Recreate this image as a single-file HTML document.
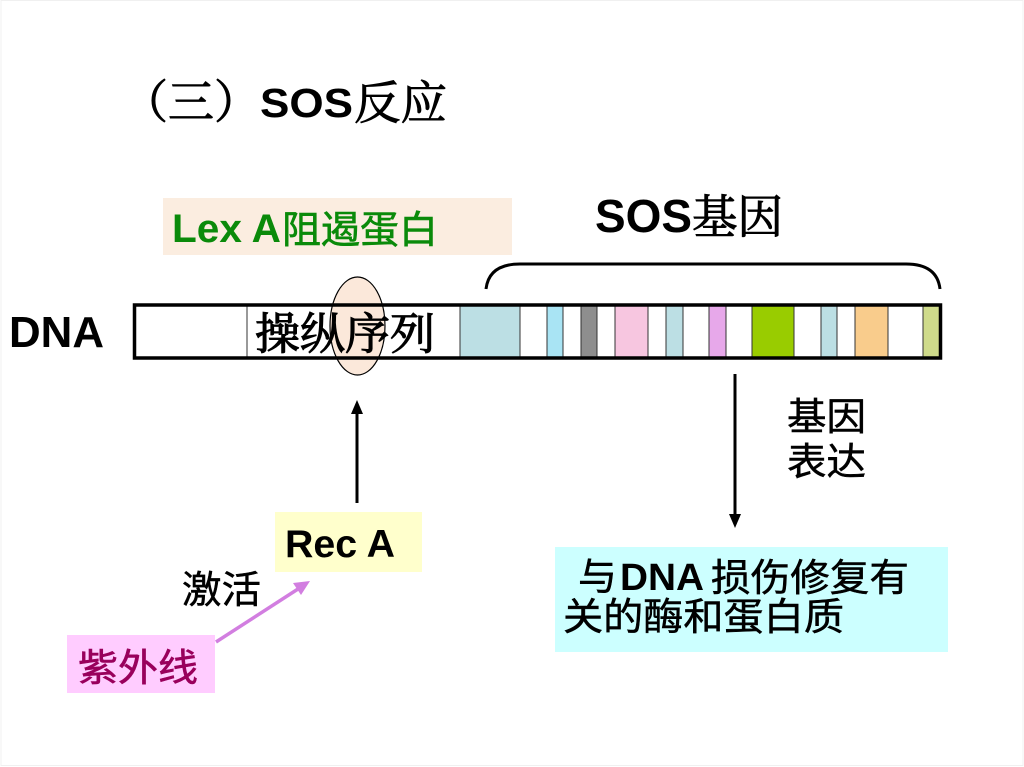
<!DOCTYPE html>
<html><head><meta charset="utf-8"><style>
html,body{margin:0;padding:0;background:#fff;}
svg{display:block;}
.sans{font-family:"Liberation Sans","Noto Sans CJK SC",sans-serif;}
.hei{font-family:"Noto Sans CJK SC","WenQuanYi Zen Hei",sans-serif;}
.song{font-family:"Noto Serif CJK SC","Noto Sans CJK SC",serif;}
</style></head><body>
<svg width="1024" height="767" viewBox="0 0 1024 767" xmlns="http://www.w3.org/2000/svg">
<rect x="0" y="0" width="1024" height="767" fill="#fff"/>
<rect x="1" y="0.5" width="1022" height="765" fill="none" stroke="#f0f0f0" stroke-width="1"/>

<!-- Title -->
<text x="122" y="118" class="song" font-size="46" stroke="#000" stroke-width="0.9" textLength="138" lengthAdjust="spacingAndGlyphs">（三）</text>
<text x="260" y="117" class="sans" font-size="41" font-weight="bold" textLength="93" lengthAdjust="spacingAndGlyphs">SOS</text>
<text x="354" y="119" class="song" font-size="46" stroke="#000" stroke-width="0.9" textLength="93" lengthAdjust="spacingAndGlyphs">反应</text>

<!-- Lex A box -->
<rect x="163" y="198" width="349" height="57" fill="#fbede0"/>
<text x="172" y="242" class="sans" font-size="40" font-weight="bold" fill="#0a8a0a" textLength="109" lengthAdjust="spacingAndGlyphs">Lex A</text>
<text x="282" y="243" class="hei" font-size="38" fill="#0a8a0a" stroke="#0a8a0a" stroke-width="0.6" textLength="156" lengthAdjust="spacingAndGlyphs">阻遏蛋白</text>

<!-- SOS genes label -->
<text x="595" y="232" class="sans" font-size="46" font-weight="bold" textLength="97" lengthAdjust="spacingAndGlyphs">SOS</text>
<text x="692" y="233" class="song" font-size="46" stroke="#000" stroke-width="0.9" textLength="91" lengthAdjust="spacingAndGlyphs">基因</text>

<!-- Brace -->
<path d="M486,289 C488,272 500,264 520,264 L906,264 C926,264 938,272 940,289" fill="none" stroke="#000" stroke-width="3"/>

<!-- DNA label -->
<text x="9" y="347" class="sans" font-size="44" font-weight="bold" textLength="95" lengthAdjust="spacingAndGlyphs">DNA</text>

<!-- DNA bar cells -->
<g stroke="#333" stroke-width="1">
<rect x="135" y="306" width="112" height="51" fill="#fff"/>
<rect x="247" y="306" width="213" height="51" fill="#fff"/>
<rect x="460" y="306" width="60" height="51" fill="#bcdfe4"/>
<rect x="520" y="306" width="27" height="51" fill="#fff"/>
<rect x="547" y="306" width="16" height="51" fill="#a9e4f4"/>
<rect x="563" y="306" width="18" height="51" fill="#fff"/>
<rect x="581" y="306" width="16" height="51" fill="#8e8e8e"/>
<rect x="597" y="306" width="18" height="51" fill="#fff"/>
<rect x="615" y="306" width="33" height="51" fill="#f7c6e0"/>
<rect x="648" y="306" width="18" height="51" fill="#fff"/>
<rect x="666" y="306" width="17" height="51" fill="#bcdfe4"/>
<rect x="683" y="306" width="26" height="51" fill="#fff"/>
<rect x="709" y="306" width="17" height="51" fill="#e7a8ea"/>
<rect x="726" y="306" width="26" height="51" fill="#fff"/>
<rect x="752" y="306" width="42" height="51" fill="#99cc00"/>
<rect x="794" y="306" width="27" height="51" fill="#fff"/>
<rect x="821" y="306" width="16" height="51" fill="#bcdfe4"/>
<rect x="837" y="306" width="18" height="51" fill="#fff"/>
<rect x="855" y="306" width="33" height="51" fill="#f9cc8c"/>
<rect x="888" y="306" width="35" height="51" fill="#fff"/>
<rect x="923" y="306" width="17" height="51" fill="#cfdb8b"/>
</g>

<!-- Ellipse -->
<ellipse cx="357.5" cy="326" rx="27.5" ry="49" fill="#fbe8da" stroke="#000" stroke-width="1.2"/>

<!-- Outer bar border -->
<rect x="134.5" y="305" width="806" height="53" fill="none" stroke="#000" stroke-width="3.5"/>

<text x="255" y="349" class="song" font-size="44" stroke="#000" stroke-width="1.1" textLength="180" lengthAdjust="spacingAndGlyphs">操纵序列</text>

<!-- Up arrow -->
<line x1="357" y1="503" x2="357" y2="412" stroke="#000" stroke-width="3"/>
<polygon points="357,400 351,414 363,414" fill="#000"/>

<!-- Rec A box -->
<rect x="275" y="512" width="147" height="60" fill="#ffffcc"/>
<text x="285" y="557" class="sans" font-size="39" font-weight="bold" textLength="110" lengthAdjust="spacingAndGlyphs">Rec A</text>

<!-- 激活 -->
<text x="182" y="603" class="hei" font-size="38" stroke="#000" stroke-width="0.5" textLength="79" lengthAdjust="spacingAndGlyphs">激活</text>

<!-- UV box -->
<rect x="67" y="635" width="148" height="58" fill="#ffccff"/>
<text x="78" y="681" class="hei" font-size="38" fill="#99005c" stroke="#99005c" stroke-width="0.6" textLength="120" lengthAdjust="spacingAndGlyphs">紫外线</text>

<!-- Pink arrow -->
<line x1="216" y1="642" x2="298" y2="589" stroke="#d27ee0" stroke-width="3.5"/>
<polygon points="310,581 293,583 301,595" fill="#d27ee0"/>

<!-- Down arrow -->
<line x1="735" y1="374" x2="735" y2="516" stroke="#000" stroke-width="3"/>
<polygon points="735,528 729,514 741,514" fill="#000"/>

<!-- 基因表达 -->
<text x="787" y="430" class="hei" font-size="38" stroke="#000" stroke-width="0.5" textLength="79" lengthAdjust="spacingAndGlyphs">基因</text>
<text x="787" y="475" class="hei" font-size="38" stroke="#000" stroke-width="0.5" textLength="79" lengthAdjust="spacingAndGlyphs">表达</text>

<!-- Result box -->
<rect x="555" y="547" width="393" height="105" fill="#ccffff"/>
<text x="578" y="590" class="hei" font-size="38" stroke="#000" stroke-width="0.5" textLength="39" lengthAdjust="spacingAndGlyphs">与</text>
<text x="620" y="590" class="sans" font-size="38" font-weight="bold" textLength="84" lengthAdjust="spacingAndGlyphs">DNA</text>
<text x="711" y="591" class="hei" font-size="38" stroke="#000" stroke-width="0.5" textLength="198" lengthAdjust="spacingAndGlyphs">损伤修复有</text>
<text x="563" y="630" class="hei" font-size="38" stroke="#000" stroke-width="0.5" textLength="281" lengthAdjust="spacingAndGlyphs">关的酶和蛋白质</text>
</svg>
</body></html>
